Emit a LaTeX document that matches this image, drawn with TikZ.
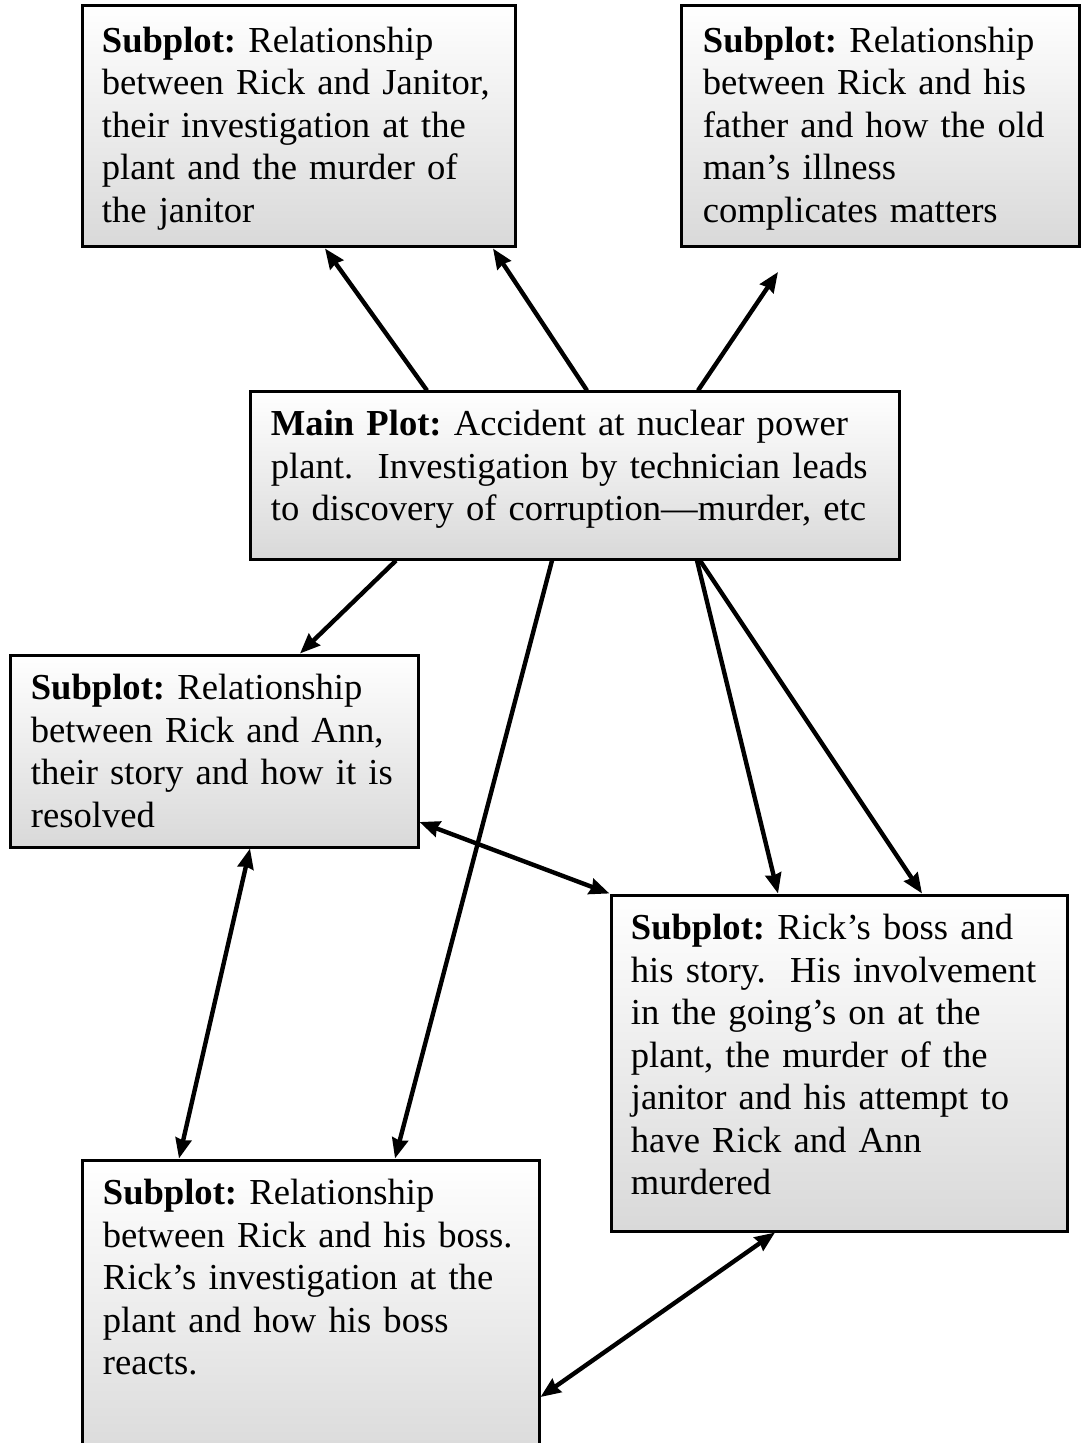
\documentclass[tikz,border=0pt]{standalone}
\usepackage{fontspec}
\setmainfont{Liberation Serif}
\usetikzlibrary{arrows.meta,calc,fit}
\frenchspacing
\begin{document}
\begin{tikzpicture}[x=0.5pt, y=-0.5pt, >={Stealth[length=10pt,width=8pt,inset=0.8pt]}, font=\fontsize{18.3}{21.25}\selectfont]
		\tikzset{plotbox/.style={rectangle, draw, line width=1.5pt, top color=white, bottom color=gray!30, inner sep=0pt}}
		\tikzset{plottext/.style={anchor=base west, inner sep=0pt, text width=330pt, align=left}}
		\tikzset{link/.style={->, line width=2.2pt}}
		\useasboundingbox (0,0) rectangle (1081,1443);
		% the boxes
		\node[plotbox, fit={(82,6) (515,247)}] (janitor) {};
		\node[plotbox, fit={(681,6) (1079,247)}] (father) {};
		\node[plotbox, fit={(250,392) (899,559)}] (main) {};
		\node[plotbox, fit={(10,655) (418,847)}] (ann) {};
		\node[plotbox, fit={(611,895) (1067,1231)}] (boss) {};
		\node[plotbox, fit={(82,1160) (539,1470)}] (bossrel) {};
		% their texts
		\node[plottext] (janitor text) at ($(janitor.north west)+(21,48)$) {\textbf{Subplot:} Relationship\\between Rick and Janitor,\\their investigation at the\\plant and the murder of\\the janitor};
		\node[plottext] (father text) at ($(father.north west)+(23,48)$) {\textbf{Subplot:} Relationship\\between Rick and his\\father and how the old\\man's illness\\complicates matters};
		\node[plottext] (main text) at ($(main.north west)+(22,45)$) {\textbf{Main Plot:} Accident at nuclear power\\plant.\ \ Investigation by technician leads\\to discovery of corruption---murder, etc};
		\node[plottext] (ann text) at ($(ann.north west)+(22,46)$) {\textbf{Subplot:} Relationship\\between Rick and Ann,\\their story and how it is\\resolved};
		\node[plottext] (boss text) at ($(boss.north west)+(21,46)$) {\textbf{Subplot:} Rick's boss and\\his story.\ \ His involvement\\in the going's on at the\\plant, the murder of the\\janitor and his attempt to\\have Rick and Ann\\murdered};
		\node[plottext] (bossrel text) at ($(bossrel.north west)+(22,46)$) {\textbf{Subplot:} Relationship\\between Rick and his boss.\\Rick's investigation at the\\plant and how his boss\\reacts.};
		% arrows out of the main plot
		\coordinate (father tip) at (778,272);
		\draw[link] (427,0 |- main.north) -- (325,0 |- janitor.south);
		\draw[link] (587,0 |- main.north) -- (493,0 |- janitor.south);
		\draw[link] (698,0 |- main.north) -- (father tip);
		\draw[link] (396,0 |- main.south) -- (300,0 |- ann.north);
		\draw[link] (552,0 |- main.south) -- (395,0 |- bossrel.north);
		\draw[link] (697,0 |- main.south) -- (778,0 |- boss.north);
		\draw[link] (700,0 |- main.south) -- (922,0 |- boss.north);
		% between the subplots
		\draw[link, <->] (ann.east |- 0,822) -- (boss.north west);
		\draw[link, <->] (250,0 |- ann.south) -- (179,0 |- bossrel.north);
		\draw[link, <->] (775,0 |- boss.south) -- (bossrel.east |- 0,1397);
	\end{tikzpicture}
\end{document}
